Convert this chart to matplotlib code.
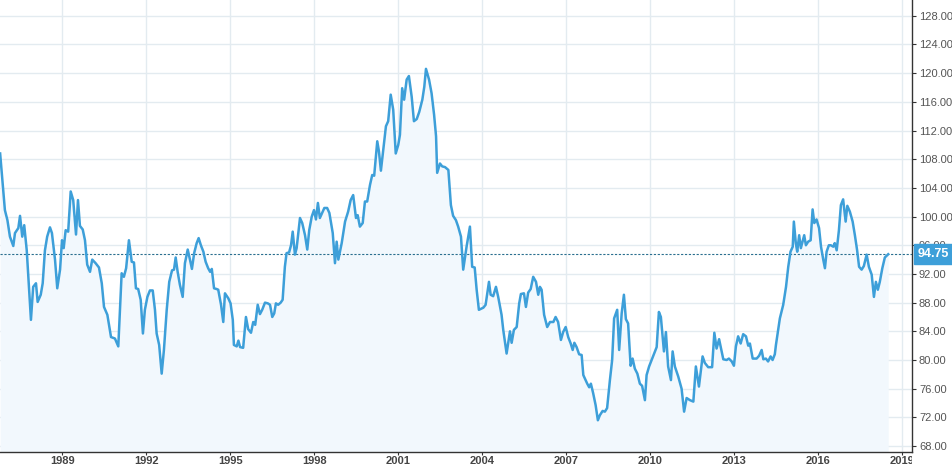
import matplotlib
matplotlib.use("Agg")
import matplotlib.pyplot as plt
from matplotlib.transforms import Bbox, TransformedBbox

plt.rcParams["font.family"] = ["Liberation Sans", "DejaVu Sans"]

dates = [
    1986.78, 1986.95, 1987.04, 1987.13, 1987.25, 1987.31, 1987.43, 1987.49, 1987.57, 1987.64,
    1987.73, 1987.88, 1987.96, 1988.06, 1988.12, 1988.23, 1988.30, 1988.38, 1988.46, 1988.56,
    1988.63, 1988.74, 1988.82, 1988.92, 1988.99, 1989.05, 1989.12, 1989.21, 1989.30, 1989.39,
    1989.49, 1989.56, 1989.63, 1989.73, 1989.81, 1989.89, 1989.99, 1990.07, 1990.19, 1990.31,
    1990.41, 1990.49, 1990.61, 1990.74, 1990.88, 1991.00, 1991.12, 1991.20, 1991.28, 1991.38,
    1991.48, 1991.56, 1991.63, 1991.71, 1991.80, 1991.88, 1991.95, 1992.04, 1992.13, 1992.23,
    1992.31, 1992.37, 1992.46, 1992.55, 1992.63, 1992.73, 1992.82, 1992.92, 1992.99, 1993.05,
    1993.12, 1993.20, 1993.30, 1993.38, 1993.48, 1993.56, 1993.63, 1993.71, 1993.80, 1993.87,
    1993.95, 1994.04, 1994.12, 1994.21, 1994.28, 1994.34, 1994.42, 1994.51, 1994.57, 1994.67,
    1994.75, 1994.81, 1994.93, 1995.01, 1995.09, 1995.13, 1995.23, 1995.29, 1995.35, 1995.46,
    1995.56, 1995.64, 1995.74, 1995.82, 1995.89, 1995.98, 1996.06, 1996.14, 1996.24, 1996.34,
    1996.42, 1996.50, 1996.57, 1996.63, 1996.71, 1996.80, 1996.87, 1996.95, 1997.01, 1997.10,
    1997.17, 1997.23, 1997.31, 1997.37, 1997.49, 1997.57, 1997.67, 1997.75, 1997.82, 1997.91,
    1997.99, 1998.06, 1998.13, 1998.20, 1998.29, 1998.36, 1998.46, 1998.54, 1998.66, 1998.74,
    1998.80, 1998.86, 1998.98, 1999.10, 1999.21, 1999.30, 1999.39, 1999.49, 1999.55, 1999.63,
    1999.73, 1999.81, 1999.89, 1999.99, 2000.07, 2000.14, 2000.25, 2000.31, 2000.38, 2000.46,
    2000.56, 2000.64, 2000.73, 2000.82, 2000.91, 2001.00, 2001.06, 2001.14, 2001.21, 2001.30,
    2001.38, 2001.48, 2001.56, 2001.66, 2001.75, 2001.86, 2001.93, 2001.99, 2002.10, 2002.19,
    2002.28, 2002.35, 2002.39, 2002.49, 2002.57, 2002.67, 2002.79, 2002.88, 2002.96, 2003.06,
    2003.14, 2003.24, 2003.32, 2003.44, 2003.56, 2003.64, 2003.73, 2003.80, 2003.88, 2004.04,
    2004.12, 2004.24, 2004.30, 2004.39, 2004.49, 2004.57, 2004.69, 2004.75, 2004.87, 2004.99,
    2005.05, 2005.13, 2005.23, 2005.32, 2005.38, 2005.49, 2005.56, 2005.64, 2005.73, 2005.82,
    2005.92, 2006.00, 2006.06, 2006.12, 2006.21, 2006.32, 2006.42, 2006.54, 2006.62, 2006.71,
    2006.81, 2006.89, 2006.98, 2007.07, 2007.16, 2007.23, 2007.29, 2007.37, 2007.46, 2007.55,
    2007.61, 2007.69, 2007.75, 2007.82, 2007.88, 2007.96, 2008.05, 2008.13, 2008.20, 2008.30,
    2008.38, 2008.46, 2008.56, 2008.64, 2008.71, 2008.82, 2008.89, 2008.98, 2009.06, 2009.13,
    2009.21, 2009.30, 2009.37, 2009.45, 2009.54, 2009.63, 2009.71, 2009.81, 2009.87, 2009.96,
    2010.05, 2010.14, 2010.23, 2010.31, 2010.38, 2010.49, 2010.56, 2010.64, 2010.74, 2010.80,
    2010.88, 2011.00, 2011.12, 2011.21, 2011.30, 2011.42, 2011.54, 2011.63, 2011.74, 2011.87,
    2011.95, 2012.07, 2012.21, 2012.29, 2012.37, 2012.46, 2012.61, 2012.73, 2012.81, 2012.91,
    2012.99, 2013.06, 2013.14, 2013.23, 2013.32, 2013.42, 2013.50, 2013.56, 2013.66, 2013.80,
    2013.89, 2013.98, 2014.04, 2014.13, 2014.21, 2014.30, 2014.37, 2014.45, 2014.49, 2014.57,
    2014.63, 2014.75, 2014.85, 2014.93, 2015.01, 2015.09, 2015.13, 2015.20, 2015.25, 2015.32,
    2015.38, 2015.44, 2015.50, 2015.56, 2015.64, 2015.73, 2015.80, 2015.86, 2015.94, 2016.03,
    2016.10, 2016.18, 2016.24, 2016.30, 2016.38, 2016.45, 2016.54, 2016.59, 2016.66, 2016.74,
    2016.81, 2016.89, 2016.98, 2017.04, 2017.13, 2017.23, 2017.31, 2017.39, 2017.46, 2017.55,
    2017.63, 2017.73, 2017.81, 2017.91, 2017.99, 2018.06, 2018.13, 2018.20, 2018.29, 2018.38,
    2018.50,
]

values = [
    108.8, 100.9, 99.5, 97.2, 95.9, 97.7, 98.4, 100.1, 97.2, 98.8,
    95.3, 85.6, 90.2, 90.7, 88.1, 89.1, 90.7, 95.3, 97.2, 98.5,
    97.7, 94.0, 90.0, 92.6, 96.7, 95.6, 98.1, 97.9, 103.5, 102.3,
    97.5, 102.3, 98.7, 98.2, 96.7, 93.3, 92.3, 94.0, 93.5, 92.9,
    90.7, 87.4, 86.3, 83.2, 83.0, 81.9, 92.1, 91.6, 92.8, 96.7,
    93.7, 93.6, 90.0, 89.9, 88.4, 83.7, 87.0, 88.8, 89.7, 89.7,
    87.0, 83.7, 82.1, 78.1, 81.4, 87.0, 90.9, 92.5, 92.6, 94.3,
    92.3, 90.5, 88.8, 93.5, 95.4, 94.0, 92.7, 94.9, 96.3, 97.0,
    96.0, 95.1, 93.7, 92.8, 92.3, 92.7, 90.0, 89.9, 89.8, 87.7,
    85.3, 89.3, 88.6, 87.9, 85.6, 82.1, 81.9, 82.7, 81.8, 81.7,
    86.0, 84.3, 83.8, 85.3, 84.9, 87.7, 86.4, 87.0, 88.0, 87.9,
    87.7, 86.0, 86.5, 87.9, 87.7, 88.0, 88.4, 93.0, 94.9, 95.0,
    96.0, 97.9, 94.7, 95.6, 99.8, 99.1, 97.4, 95.4, 98.1, 100.0,
    100.9, 99.6, 101.9, 99.8, 100.6, 101.2, 101.2, 100.5, 97.7, 93.5,
    96.5, 94.0, 96.3, 99.3, 100.7, 102.3, 103.0, 99.8, 100.2, 98.6,
    99.1, 102.1, 102.1, 104.4, 105.8, 105.7, 110.5, 109.1, 106.4, 109.1,
    112.6, 113.3, 117.0, 114.9, 108.8, 110.0, 111.4, 117.9, 116.3, 119.1,
    119.6, 116.7, 113.3, 113.6, 114.6, 116.3, 118.1, 120.6, 119.1, 117.2,
    114.2, 111.2, 106.1, 107.4, 107.0, 106.9, 106.5, 101.6, 100.1, 99.5,
    98.6, 97.2, 92.6, 95.8, 98.6, 93.0, 92.9, 89.8, 87.0, 87.3,
    87.7, 90.9, 89.1, 88.9, 90.2, 88.8, 86.3, 84.2, 80.9, 84.0,
    82.4, 84.2, 84.6, 87.9, 89.2, 89.3, 87.4, 89.4, 89.9, 91.6,
    90.9, 89.1, 90.2, 89.8, 86.3, 84.6, 85.3, 85.3, 86.0, 85.3,
    82.8, 83.9, 84.6, 83.2, 82.3, 81.4, 82.4, 81.8, 80.8, 80.7,
    77.9, 77.2, 76.7, 76.2, 76.7, 75.4, 73.7, 71.6, 72.3, 72.9,
    72.8, 73.3, 77.2, 80.0, 85.8, 87.0, 81.4, 86.5, 89.1, 85.7,
    85.1, 79.2, 80.2, 78.8, 78.1, 76.7, 76.4, 74.4, 77.9, 79.1,
    80.0, 80.9, 81.8, 86.7, 86.0, 81.2, 83.9, 79.1, 77.2, 81.2,
    79.1, 77.7, 76.0, 72.8, 74.7, 74.4, 74.2, 79.1, 76.3, 80.5,
    79.6, 79.0, 79.0, 83.8, 81.6, 82.9, 80.1, 80.0, 80.2, 79.8,
    79.2, 81.9, 83.3, 82.3, 83.6, 83.3, 82.0, 82.3, 80.2, 80.2,
    80.6, 81.4, 80.1, 80.2, 79.8, 80.5, 80.0, 80.8, 82.1, 84.2,
    85.8, 87.7, 90.2, 93.0, 95.1, 95.8, 99.3, 96.3, 95.1, 97.4,
    95.6, 96.5, 97.4, 96.0, 96.5, 96.7, 101.0, 99.1, 99.6, 98.4,
    95.8, 94.0, 92.8, 95.1, 96.0, 96.0, 95.8, 96.3, 95.3, 98.1,
    101.6, 102.4, 99.3, 101.5, 100.7, 99.3, 97.4, 95.3, 93.0, 92.6,
    93.1, 94.7, 93.0, 91.9, 88.8, 90.9, 89.8, 90.9, 92.8, 94.3,
    94.75,
]

year_ticks = list(range(1989, 2020, 3))
value_ticks = list(range(68, 129, 4))
last_value = 94.75

LINE = "#3d9fd9"
GRID = "#e3ebf0"
AXIS = "#333333"

fig = plt.figure(figsize=(9.53, 4.66), dpi=100)
ax = fig.add_axes([0.0, 0.0300, 912 / 953, 0.9700])

ax.fill_between(dates, values, 60, color="#f2f8fd", zorder=1, linewidth=0)
ax.plot(dates, values, color=LINE, linewidth=1.8, zorder=3, solid_joinstyle="round")
ax.axhline(last_value, color="#2a6f8f", linestyle=(0, (2, 1.5)), linewidth=0.8, zorder=2)

ax.set_xlim(1986.775, 2019.35)
ax.set_ylim(67.17, 130.2)

ax.set_xticks(year_ticks)
ax.set_xticklabels([str(y) for y in year_ticks])
ax.set_yticks(value_ticks)
ax.set_yticklabels([f"{v:.2f}" for v in value_ticks])

ax.grid(True, color=GRID, linewidth=1.0, zorder=0)
ax.set_axisbelow(True)

for s in ["top", "left"]:
    ax.spines[s].set_visible(False)
ax.spines["right"].set_color(AXIS)
ax.spines["bottom"].set_color(AXIS)
ax.spines["right"].set_linewidth(1.0)
ax.spines["bottom"].set_linewidth(1.0)

ax.yaxis.tick_right()
ax.tick_params(axis="y", direction="out", length=3, width=0.8, color=AXIS,
               labelsize=8, labelcolor="#555555", pad=2)
ax.tick_params(axis="x", direction="out", length=2.5, width=0.8, color=AXIS,
               labelsize=8, labelcolor="#444444", pad=0.5)
for lab in ax.get_xticklabels():
    lab.set_fontweight("bold")
    lab.set_clip_box(TransformedBbox(Bbox([[0, -1], [1, 1]]), ax.transAxes))
    lab.set_clip_on(True)

ax.annotate(f"{last_value:.2f}", xy=(1.0, last_value), xycoords=("axes fraction", "data"),
            xytext=(4, 0), textcoords="offset points", ha="left", va="center",
            fontsize=9, fontweight="bold", color="white", zorder=10,
            bbox=dict(boxstyle="square,pad=0.3", fc=LINE, ec=LINE),
            annotation_clip=False)

fig.savefig("out.png", dpi=100, facecolor="white")
